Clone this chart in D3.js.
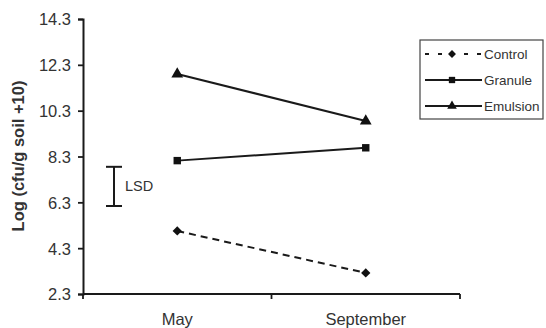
<!DOCTYPE html>
<html>
<head>
<meta charset="utf-8">
<script src="https://cdn.jsdelivr.net/npm/d3@7"></script>
<style>
  body { margin: 0; background: #fff; }
  svg { font-family: "Liberation Sans", Arial, sans-serif; }
</style>
</head>
<body>
<svg width="546" height="328"></svg>
<script>
// Valores
var meses = ["May", "September"];
var control = [5.05, 3.22];
var granule = [8.12, 8.68];
var emulsion = [11.9, 9.85];
var ticksY = [2.3, 4.3, 6.3, 8.3, 10.3, 12.3, 14.3];
var lsd = [6.14, 7.85];

var diamante = d3.symbolDiamond2 || d3.symbolDiamond;
var series = [
  { nombre: "Control", valores: control, forma: diamante, guion: "7,5" },
  { nombre: "Granule", valores: granule, forma: d3.symbolSquare, guion: null },
  { nombre: "Emulsion", valores: emulsion, forma: d3.symbolTriangle, guion: null }
];

var svg = d3.select("svg");
var izq = 83, der = 460, arriba = 19, abajo = 294;
var tinta = "#1a1a1a";

var x = d3.scaleBand().domain(meses).range([izq, der]);
var y = d3.scaleLinear().domain([2.3, 14.3]).range([abajo, arriba]);

// Eje Y
var ejeY = svg.append("g")
  .attr("transform", "translate(" + izq + ",0)")
  .call(d3.axisLeft(y).tickValues(ticksY).tickFormat(d3.format(".1f")).tickSize(5).tickPadding(7));
ejeY.select(".domain").attr("stroke", tinta).attr("stroke-width", 2);
ejeY.selectAll(".tick line").attr("stroke", tinta).attr("stroke-width", 1.8);
ejeY.selectAll(".tick text").attr("font-size", 16.5).attr("fill", "#333").attr("dy", "0.36em");

// Eje X con marcas en los limites de cada categoria
svg.append("line")
  .attr("x1", izq).attr("x2", der).attr("y1", abajo).attr("y2", abajo)
  .attr("stroke", tinta).attr("stroke-width", 2);
var limites = [izq].concat(meses.map(function(m) { return x(m) + x.bandwidth(); }));
svg.selectAll(".marcaX").data(limites).enter().append("line")
  .attr("x1", function(d) { return d; }).attr("x2", function(d) { return d; })
  .attr("y1", abajo).attr("y2", abajo + 5)
  .attr("stroke", tinta).attr("stroke-width", 1.8);
svg.selectAll(".etiquetaX").data(meses).enter().append("text")
  .attr("x", function(d) { return x(d) + x.bandwidth() / 2; })
  .attr("y", abajo + 31)
  .attr("text-anchor", "middle")
  .attr("font-size", 16.5).attr("fill", "#333")
  .text(function(d) { return d; });

// Titulo del eje Y
svg.append("text")
  .attr("transform", "translate(24,156) rotate(-90)")
  .attr("text-anchor", "middle")
  .attr("font-size", 16.5).attr("font-weight", "bold").attr("fill", "#333")
  .text("Log (cfu/g soil +10)");

// Lineas y marcadores
var cx = function(i) { return x(meses[i]) + x.bandwidth() / 2; };
var linea = d3.line()
  .x(function(d, i) { return cx(i); })
  .y(function(d) { return y(d); });

series.forEach(function(s) {
  svg.append("path")
    .attr("d", linea(s.valores))
    .attr("fill", "none").attr("stroke", tinta).attr("stroke-width", 2)
    .attr("stroke-dasharray", s.guion);
  svg.selectAll(null).data(s.valores).enter().append("path")
    .attr("d", d3.symbol().type(s.forma).size(s.forma === d3.symbolTriangle ? 60 : 55))
    .attr("transform", function(d, i) { return "translate(" + cx(i) + "," + y(d) + ")"; })
    .attr("fill", "#111");
});

// Barra LSD
var lsdX = 114;
svg.append("line")
  .attr("x1", lsdX).attr("x2", lsdX).attr("y1", y(lsd[0])).attr("y2", y(lsd[1]))
  .attr("stroke", tinta).attr("stroke-width", 2);
lsd.forEach(function(v) {
  svg.append("line")
    .attr("x1", lsdX - 8).attr("x2", lsdX + 8).attr("y1", y(v)).attr("y2", y(v))
    .attr("stroke", tinta).attr("stroke-width", 2);
});
svg.append("text")
  .attr("x", lsdX + 11).attr("y", y((lsd[0] + lsd[1]) / 2) + 5)
  .attr("font-size", 14.5).attr("fill", "#333")
  .text("LSD");

// Leyenda
var leyenda = svg.append("g").attr("transform", "translate(420,40)");
leyenda.append("rect")
  .attr("width", 123).attr("height", 79)
  .attr("fill", "#fff").attr("stroke", "#444").attr("stroke-width", 1.2);
series.forEach(function(s, i) {
  var ly = 14 + i * 26;
  leyenda.append("line")
    .attr("x1", 5).attr("x2", 62).attr("y1", ly).attr("y2", ly)
    .attr("stroke", tinta).attr("stroke-width", 2)
    .attr("stroke-dasharray", s.guion ? "4,9" : null);
  leyenda.append("path")
    .attr("d", d3.symbol().type(s.forma).size(40))
    .attr("transform", "translate(32," + ly + ")")
    .attr("fill", "#111");
  leyenda.append("text")
    .attr("x", 64).attr("y", ly + 5)
    .attr("font-size", 13.5).attr("fill", "#333")
    .text(s.nombre);
});
</script>
</body>
</html>
